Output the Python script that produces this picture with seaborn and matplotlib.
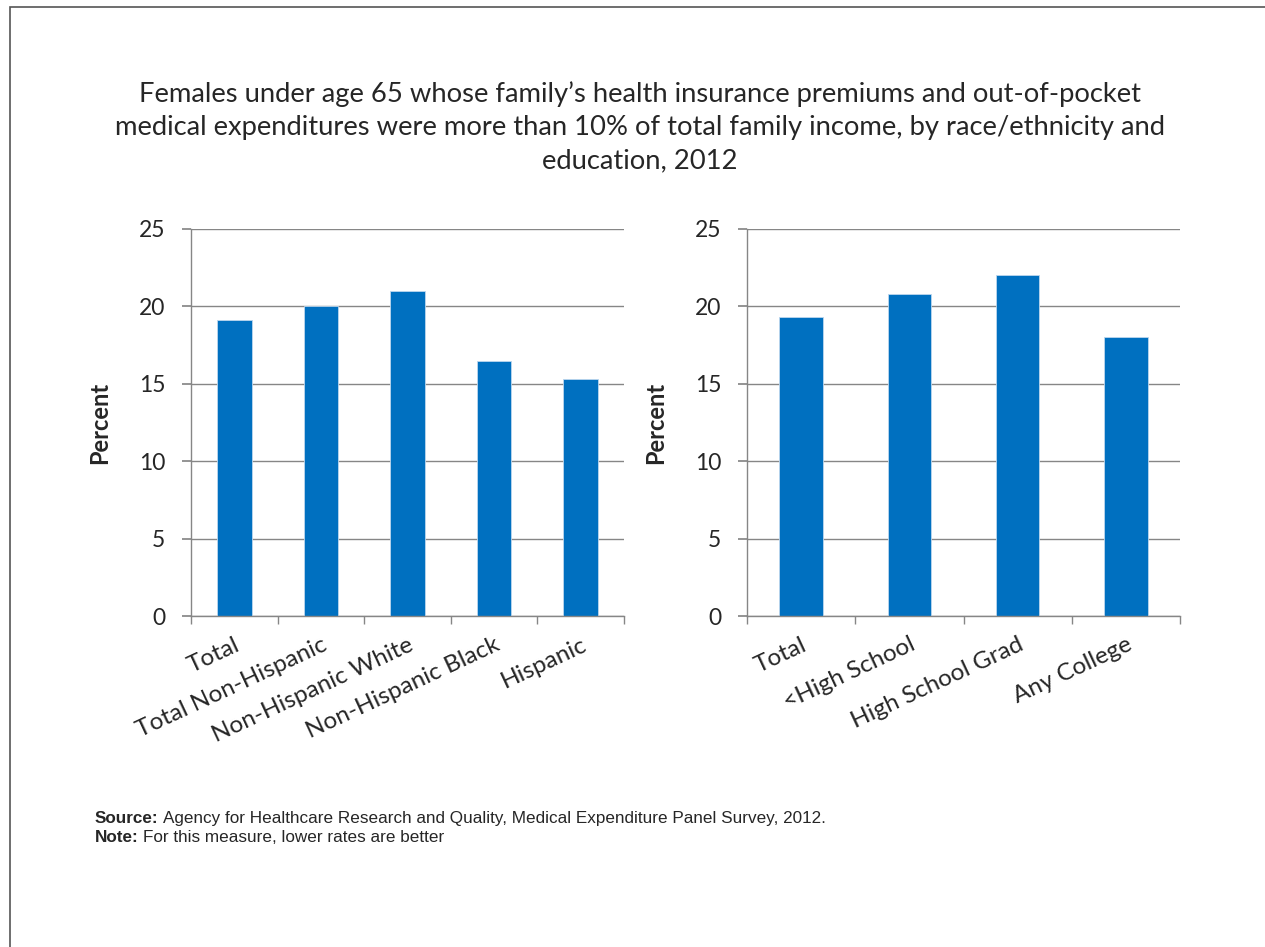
import numpy as np
import pandas as pd
import matplotlib
matplotlib.use('Agg')
import matplotlib.pyplot as plt
import seaborn as sns

# data
race_labels = ['Total', 'Total Non-Hispanic', 'Non-Hispanic White', 'Non-Hispanic Black', 'Hispanic']
race_values = [19.1, 20.0, 21.0, 16.5, 15.3]
edu_labels = ['Total', '<High School', 'High School Grad', 'Any College']
edu_values = [19.3, 20.8, 22.0, 18.0]
y_ticks = [0, 5, 10, 15, 20, 25]

title = ("Females under age 65 whose family\u2019s health insurance premiums and out-of-pocket\n"
         "medical expenditures were more than 10% of total family income, by race/ethnicity and\n"
         "education, 2012")

sns.set_theme(style='white')
plt.rcParams['font.family'] = ['Lato', 'DejaVu Sans']

fig = plt.figure(figsize=(12.65, 9.47), dpi=100)
bar_color = '#0070C0'
grid_color = '#868686'

def panel(rect, labels, values):
    ax = fig.add_axes(rect)
    df = pd.DataFrame({'cat': labels, 'val': values})
    sns.barplot(data=df, x='cat', y='val', color=bar_color, width=0.4,
                saturation=1, ax=ax, edgecolor='#BDD7EE', linewidth=0.6)
    ax.set_ylim(0, 25)
    ax.set_xlim(-0.5, len(labels) - 0.5)
    ax.set_yticks(y_ticks)
    ax.set_yticklabels([str(t) for t in y_ticks], fontsize=16.5)
    ax.yaxis.grid(True, color=grid_color, linewidth=1)
    ax.set_axisbelow(True)
    for s in ['top', 'right']:
        ax.spines[s].set_visible(False)
    for s in ['left', 'bottom']:
        ax.spines[s].set_color(grid_color)
        ax.spines[s].set_linewidth(1)
    # ticks between categories on x, outside on y
    ax.set_xticks(np.arange(len(labels)))
    ax.set_xticklabels(labels, rotation=25, ha='right', rotation_mode='anchor', fontsize=17.5)
    ax.tick_params(axis='x', length=0, pad=13)
    ax.set_xticks(np.arange(len(labels) + 1) - 0.5, minor=True)
    ax.tick_params(axis='x', which='minor', length=6, color=grid_color, direction='out', bottom=True)
    ax.tick_params(axis='y', length=6.5, color=grid_color, direction='out', left=True, pad=12)
    ax.set_xlabel('')
    ax.set_ylabel('Percent', fontsize=17, fontweight='bold', labelpad=20)
    return ax

W, H = 1265, 947
panel([191 / W, 1 - 616 / H, 433 / W, 387 / H], race_labels, race_values)
panel([747 / W, 1 - 616 / H, 433 / W, 387 / H], edu_labels, edu_values)

fig.text(640 / W, 1 - 127 / H, title, ha='center', va='center', fontsize=19.7, linespacing=1.4)

src_font = ['Liberation Sans Narrow', 'Liberation Sans', 'DejaVu Sans']
fig.canvas.draw()
renderer = fig.canvas.get_renderer()
for y, head, body in [(818, 'Source:', 'Agency for Healthcare Research and Quality, Medical Expenditure Panel Survey, 2012.'),
                      (838, 'Note:', 'For this measure, lower rates are better')]:
    t = fig.text(95 / W, 1 - y / H, head, fontsize=12.3, fontweight='bold', family=src_font, va='center')
    bb = t.get_window_extent(renderer)
    fig.text((bb.x1 + 4) / W, 1 - y / H, body, fontsize=12.3, family=src_font, va='center')

# frame around the slide
fig.add_artist(plt.Rectangle((10 / W, -0.01), 1.0, 1 - 7 / H + 0.01, transform=fig.transFigure,
                             fill=False, edgecolor='#555555', linewidth=1.2))

fig.savefig('out.png', dpi=100)
